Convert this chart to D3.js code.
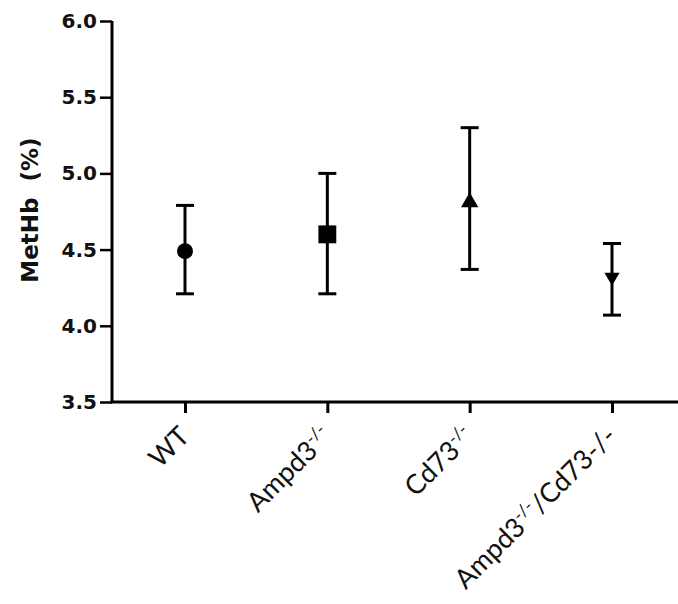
<!DOCTYPE html>
<html>
<head>
<meta charset="utf-8">
<title>MetHb</title>
<script src="https://cdn.jsdelivr.net/npm/d3@7/dist/d3.min.js"></script>
<style>
  body { margin: 0; background: #fff; }
  .tick text { font-family: "DejaVu Sans", sans-serif; font-weight: bold; font-size: 20px; fill: #111; }
  .xlab { font-family: Lato, "Open Sans", sans-serif; font-size: 27px; fill: #111; }
</style>
</head>
<body>
<svg id="chart" width="678" height="604"></svg>
<script>
// groups and values
var groups = ['WT', 'Ampd3', 'Cd73', 'Ampd3/Cd73'];
var means  = [4.49, 4.60, 4.81, 4.32];
var lower  = [4.21, 4.21, 4.37, 4.07];
var upper  = [4.79, 5.00, 5.30, 4.54];
var shapes = [d3.symbolCircle, d3.symbolSquare, d3.symbolTriangle, d3.symbolTriangle];
var yTicks = [3.5, 4.0, 4.5, 5.0, 5.5, 6.0];

var svg = d3.select('#chart');
var mLeft = 112, mTop = 21, mBottom = 402;

var x = d3.scalePoint()
  .domain(groups)
  .range([185, 612]);

var y = d3.scaleLinear()
  .domain([3.5, 6.0])
  .range([mBottom, mTop]);

// y axis
var yAxis = svg.append('g')
  .attr('transform', 'translate(' + mLeft + ',0)')
  .call(d3.axisLeft(y).tickValues(yTicks).tickFormat(d3.format('.1f')).tickSize(12).tickPadding(3));
yAxis.select('.domain').attr('stroke', '#000').attr('stroke-width', 3).attr('d', 'M0,' + mTop + 'V' + mBottom);
yAxis.selectAll('.tick line').attr('stroke', '#000').attr('stroke-width', 2.5);

// x axis
var xAxis = svg.append('g')
  .attr('transform', 'translate(0,' + mBottom + ')')
  .call(d3.axisBottom(x).tickSize(11).tickFormat(''));
xAxis.select('.domain').attr('stroke', '#000').attr('stroke-width', 3).attr('d', 'M' + (mLeft - 1.5) + ',0H678');
xAxis.selectAll('.tick line').attr('stroke', '#000').attr('stroke-width', 3);

// rotated category labels with superscripts
var labelParts = [
  [['WT', false]],
  [['Ampd3', false], ['-/-', true]],
  [['Cd73', false], ['-/-', true]],
  [['Ampd3', false], ['-/-', true], ['/Cd73-/-', false]]
];
groups.forEach(function(g, i) {
  var tx = x(g) + 6, ty = 438;
  var t = svg.append('text')
    .attr('class', 'xlab')
    .attr('text-anchor', 'end')
    .attr('transform', 'translate(' + tx + ',' + ty + ') rotate(-45)');
  labelParts[i].forEach(function(p) {
    var s = t.append('tspan').text(p[0]);
    if (p[1]) s.attr('font-size', '17px').attr('baseline-shift', '10px');
  });
});

// y label
svg.append('text')
  .attr('transform', 'translate(38,210) rotate(-90)')
  .attr('text-anchor', 'middle')
  .attr('font-family', '"DejaVu Sans", sans-serif')
  .attr('font-weight', 'bold')
  .attr('font-size', '23px')
  .attr('fill', '#111')
  .attr('xml:space', 'preserve')
  .text('MetHb  (%)');

// error bars
var capW = 18;
var bars = svg.append('g').attr('stroke', '#000').attr('stroke-width', 3);
groups.forEach(function(g, i) {
  var cx = x(g);
  bars.append('line').attr('x1', cx).attr('x2', cx).attr('y1', y(upper[i])).attr('y2', y(lower[i]));
  bars.append('line').attr('x1', cx - capW / 2).attr('x2', cx + capW / 2).attr('y1', y(upper[i])).attr('y2', y(upper[i]));
  bars.append('line').attr('x1', cx - capW / 2).attr('x2', cx + capW / 2).attr('y1', y(lower[i])).attr('y2', y(lower[i]));
});

// mean markers
var sizes = [200, 320, 130, 100];
svg.append('g').selectAll('path')
  .data(groups)
  .join('path')
  .attr('fill', '#000')
  .attr('d', function(g, i) { return d3.symbol().type(shapes[i]).size(sizes[i])(); })
  .attr('transform', function(g, i) {
    return 'translate(' + x(g) + ',' + y(means[i]) + ')' + (i == 3 ? ' rotate(180)' : '');
  });
</script>
</body>
</html>
